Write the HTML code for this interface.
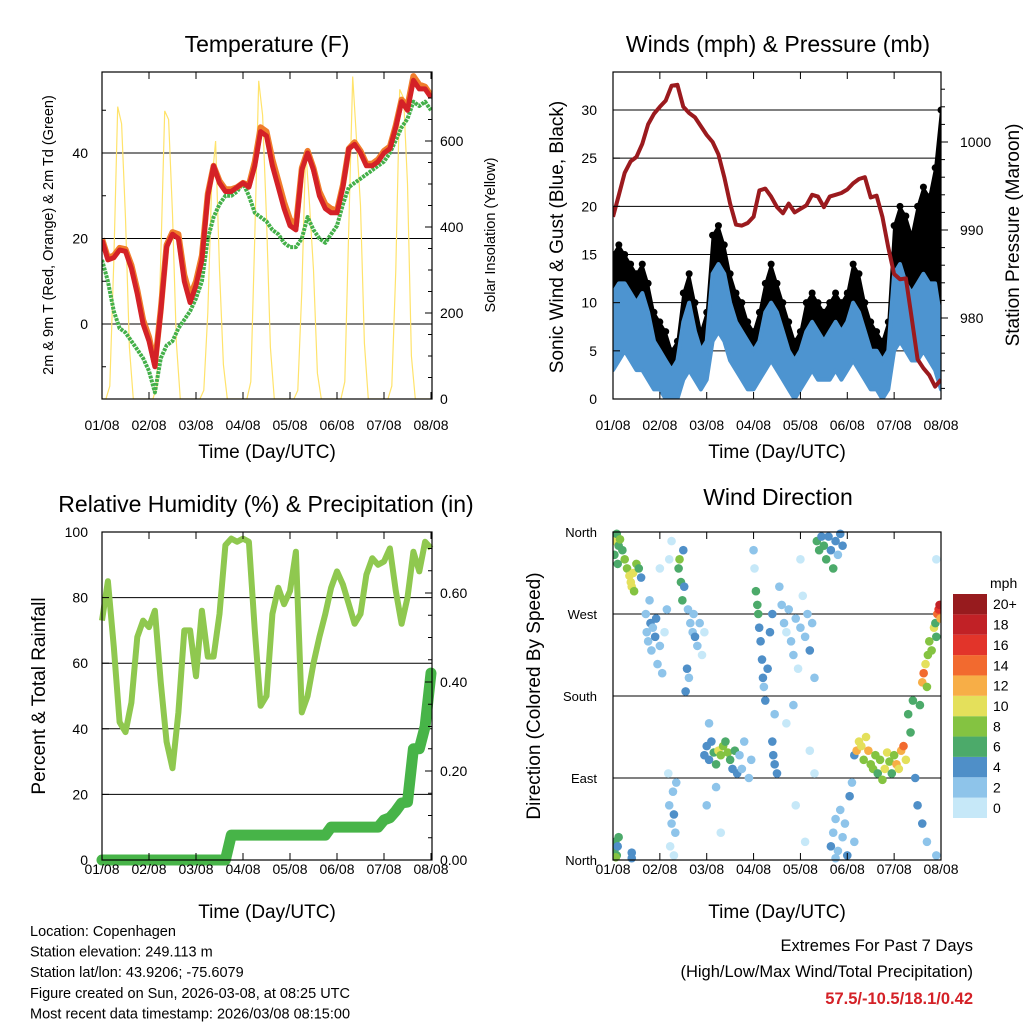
<!DOCTYPE html>
<html><head><meta charset="utf-8"><style>
html,body{margin:0;padding:0;background:#fff}
svg{display:block;font-family:"Liberation Sans",Arial,sans-serif}
</style></head><body>
<svg id="chart" width="1024" height="1024" viewBox="0 0 1024 1024" xmlns="http://www.w3.org/2000/svg"></svg>
<script>
// ---------- DATA (3-hourly, 57 samples from 01/08 to 08/08) ----------
const dayLabels = ["01/08","02/08","03/08","04/08","05/08","06/08","07/08","08/08"];
const temp2m = [19.6,15,15.5,17.3,17,13,7,0,-4,-10,3,18,21,20,10,5,9,15,30,37,33,31,31,32,33,32,37,45,44,37,32,27,23,22,36,40,36,30,27,26,26,32,41,42,40,37,37,38,40,41,46,52,50,57,55,55,53];
const temp9m = [20,15.5,16,17.8,17.5,13.8,8,1,-3,-9.5,3.5,18.5,21.5,21,11.5,6.5,10,16,30.5,37,33.5,31.5,31.5,32,33,32.5,38,46,45,38.5,33.5,28.5,24.5,23,36.5,40.5,36.5,31,28,27,26.5,32.5,41,42.5,40.5,37.5,37.5,38.5,40.5,41.5,46.5,52.5,51,58,56,55.5,53.5];
const dewpt = [15,10,3,-1,-2,-4,-6,-8,-11,-16,-8,-5,-4,-1,1,3,6,10,20,25,28,30,30,31,33,30,26,25,24,22,21,19,18,18,20,25,22,20,19,21,23,28,32,33,34,35,36,37,38,40,43,46,48,52,51,52,50];
// Solar insolation, 2-hourly (85 samples)
const solar = [0,0,30,320,680,640,420,120,0,0,0,0, 0,0,30,330,670,650,430,130,0,0,0,0, 0,0,20,200,500,600,300,80,0,0,0,0, 0,0,40,380,740,660,420,120,0,0,0,0, 0,0,20,250,580,450,300,60,0,0,0,0, 0,0,40,400,750,600,450,130,0,0,0,0, 0,0,30,300,720,700,500,100,0,0,0,0, 0];
const windLo = [3,4,5,4,3,3,2,1,1,0,0,0,2,3,2,1,2,6,7,6,4,3,2,1,1,2,3,4,3,2,1,0,1,2,3,2,2,2,3,2,3,4,3,2,1,1,0,1,5,6,5,4,4,5,4,3,1];
const windHi = [11,12,12,11,10,11,9,6,5,4,3,4,8,10,7,5,6,13,14,13,10,8,7,6,5,6,9,10,9,7,5,4,5,7,8,7,6,7,8,7,8,10,9,7,5,5,4,5,13,14,12,11,12,13,12,12,8];
const gust = [15,16,15,14,13,14,12,9,8,7,5,6,11,13,10,7,9,17,18,16,13,11,10,8,7,9,12,14,12,10,8,6,7,10,11,10,9,10,11,10,11,14,13,10,8,7,6,8,18,20,19,17,20,22,21,24,30];
const pressure = [991.5,994,996.5,997.8,998.3,999.8,1002,1003.2,1004,1004.7,1006.4,1006.5,1004,1003.3,1002.8,1001.8,1000.8,1000,998.6,996,993,990.6,990.5,990.8,991.5,994.5,994.7,993.8,992.6,991.9,993,992,992.4,992.8,994,993.8,992.6,993.8,994,994.2,994.6,995.3,995.8,996,993.7,993.9,991.5,988,985,984.4,984.5,980,975.3,974.3,973.5,972.2,973];
const rh = [73,85,65,42,39,48,68,73,71,76,54,36,28,45,70,70,56,76,62,62,75,96,98,97,98,97,70,47,50,75,83,78,82,94,45,50,60,68,75,83,88,84,78,72,75,87,92,90,91,95,82,72,80,94,88,97,95];
const precip = [0,0,0,0,0,0,0,0,0,0,0,0,0,0,0,0,0,0,0,0,0,0,0.056,0.056,0.056,0.056,0.056,0.056,0.056,0.056,0.056,0.056,0.056,0.056,0.056,0.056,0.056,0.056,0.056,0.074,0.074,0.074,0.074,0.074,0.074,0.074,0.074,0.074,0.09,0.095,0.11,0.128,0.13,0.25,0.25,0.30,0.42];
// wind direction obs: day, direction(deg), speed(mph)
const dirDay = [0.02,0.05,0.08,0.12,0.15,0.2,0.25,0.3,0.35,0.38,0.4,0.43,0.45,0.5,0.55,0.6,0.03,0.1, 0.7,0.72,0.75,0.8,0.82,0.85,0.9,0.92,0.95,1.0,1.05,1.1,1.15,0.78, 1.4,1.42,1.45,1.48,1.5,1.52, 1.6,1.65,1.7,1.72,1.75,1.8,1.85,1.9,1.95,1.62,1.55,1.58,1.2,1.25,1.0, 1.2,1.25,1.28,1.3,1.33,1.22,1.35,1.18,1.3, 0.03,0.05,0.08,0.1,0.12,0.06,0.4,0.4, 1.95,2.0,2.05,2.1,2.15,2.2,2.25,2.3,2.35,2.4,2.45,2.5,2.55,2.6,2.65,2.7,2.75,2.8,2.9,2.95,2.05,2.2,2.0,2.3, 3.0,3.02,3.05,3.08,3.1,3.12,3.15,3.18,3.2,3.22,3.25,3.3,3.35,3.4,3.45,3.42,3.45,3.4,3.5, 3.55,3.6,3.65,3.7,3.75,3.8,3.85,3.9,3.95,4.0,4.05,4.1,4.15,4.2,4.25,4.3,3.7,3.85,4.0,4.2,3.9,4.1,4.3, 4.35,4.4,4.45,4.5,4.55,4.6,4.65,4.7,4.75,4.8,4.85,4.9, 4.65,4.7,4.75,4.8,4.85,4.9,4.95,5.0,5.05,5.1,5.15,4.75, 5.15,5.2,5.25,5.3,5.35,5.4,5.45,5.5,5.55,5.6,5.65,5.7,5.75,5.8,5.85,5.9,5.95,6.0,6.05,6.1,6.15,6.2,6.25,6.3,6.35,6.4,6.45,6.5, 6.6,6.63,6.67,6.7,6.72,6.75,6.8,6.85,6.88,6.9,6.92,6.95,6.97,6.99,6.55,6.6,6.7,6.9,6.9];
const dirDeg = [355,350,358,345,352,340,330,320,312,305,300,315,295,325,320,310,335,325, 270,250,240,260,230,255,245,265,215,235,205,250,275,285, 320,330,305,285,340,300, 275,260,250,270,245,235,260,225,250,200,185,210,330,350,320, 60,40,75,50,30,15,85,95,5, 10,20,5,15,25,3,8,2, 115,125,110,130,118,105,120,115,125,130,118,110,100,120,95,115,100,130,90,110,150,80,60,30, 340,320,295,280,270,255,240,220,200,190,175,210,250,270,160,115,105,130,95, 300,280,260,250,275,240,225,265,210,255,290,245,270,230,260,200,150,170,330,120,60,20,95, 350,340,355,345,330,355,340,320,350,335,358,345, 15,30,45,10,55,25,40,5,70,85,20,2, 115,120,130,125,110,135,120,105,100,115,95,110,88,100,118,108,95,115,105,100,120,125,110,160,140,175,90,60, 195,205,215,190,225,240,230,255,260,245,270,275,280,265,170,40,20,5,330];
const dirSpd = [8,10,7,6,8,7,9,8,10,11,10,10,9,8,6,5,6,7, 3,2,3,4,2,3,4,5,2,3,2,1,2,2, 7,8,6,7,5,4, 3,2,3,2,4,2,2,1,1,2,4,4,1,1,1, 3,3,2,4,2,1,2,1,1, 7,6,6,5,7,9,4,4, 4,5,4,5,6,7,10,8,9,7,8,6,5,6,4,3,2,3,2,2,2,2,2,1, 2,1,6,7,6,5,4,4,4,3,4,4,4,4,3,4,4,4,4, 2,3,2,1,2,3,2,3,1,2,1,3,3,4,3,2,1,2,1,1,1,1,1, 6,6,5,7,6,4,5,6,4,3,4,4, 4,3,2,3,2,3,2,4,4,2,2,3, 5,12,10,11,8,10,12,9,8,8,7,9,8,10,11,8,7,9,12,11,13,14,10,7,6,6,4,4, 12,14,10,8,9,8,9,10,7,6,15,17,19,13,6,4,3,2,1];
const cbLabels = ["0","2","4","6","8","10","12","14","16","18","20+"];
const cbColors = ["#c6e8f8","#8ec4ea","#4f8fc8","#4caa6a","#84c341","#e4e05b","#f7ae47","#f26a2f","#e2342a","#c12126","#971b1e"];

// ---------- helpers ----------
const NS="http://www.w3.org/2000/svg";
const svg=document.getElementById('chart');
function el(tag,attrs,parent,text){const e=document.createElementNS(NS,tag);for(const k in attrs)e.setAttribute(k,attrs[k]);if(text!==undefined)e.textContent=text;(parent||svg).appendChild(e);return e;}
function txt(x,y,s,size,anchor,parent,extra){const t=el('text',Object.assign({x:x,y:y,'font-size':size,'text-anchor':anchor||'middle',fill:'#000'},extra||{}),parent,s);return t;}
function linear(d0,d1,r0,r1){return v=>r0+(v-d0)*(r1-r0)/(d1-d0);}
function pathFrom(xs,ys){return xs.map((x,i)=>(i?'L':'M')+x.toFixed(1)+','+ys[i].toFixed(1)).join('');}
const hours3=temp2m.map((_,i)=>i/8), hours2=solar.map((_,i)=>i/12);

function frame(g,L,T,R,B,xs,labOff){
  dayLabels.forEach((lab,i)=>{const x=xs(i);
    const tk=el('line',{x1:x,x2:x,y1:B,y2:B-7,stroke:'#000','stroke-width':1},g);
    
    
    el('line',{x1:x,x2:x,y1:T,y2:T+7,stroke:'#000','stroke-width':1},g);
    const t=txt(x,B+labOff,lab,14,'middle',g);
    
    
  });
}
function box(g,L,T,R,B){el('rect',{x:L,y:T,width:R-L,height:B-T,fill:'none',stroke:'#000','stroke-width':1.2},g);}
function grid(g,L,R,y){el('line',{x1:L,x2:R,y1:y,y2:y,stroke:'#000','stroke-width':1},g);}

// ================= PANEL 1: Temperature =================
(function(){
const g=el('g',{});  
const L=102,T=72,R=432,B=399;
const xs=linear(0,7,L,431), ys=linear(0,40,324,153), ysol=linear(0,600,399,141);
const cp=el('clipPath',{id:'c1'},g); el('rect',{x:L,y:T,width:R-L,height:B-T},cp);
[0,20,40].forEach(v=>grid(g,L,R,ys(v)));
const pg=el('g',{'clip-path':'url(#c1)'},g);
const sol=el('path',{d:pathFrom(hours2.map(xs),solar.map(ysol)),fill:'none',stroke:'#ffe36b','stroke-width':1.2},pg);
 
const dp=el('path',{d:pathFrom(hours3.map(xs),dewpt.map(ys)),fill:'none',stroke:'#44b04a','stroke-width':4,'stroke-dasharray':'3 1','stroke-linejoin':'round'},pg);
 
const t9=el('path',{d:pathFrom(hours3.map(xs),temp9m.map(ys)),fill:'none',stroke:'#f07d2b','stroke-width':6,'stroke-linejoin':'round'},pg);
 
const t2=el('path',{d:pathFrom(hours3.map(xs),temp2m.map(ys)),fill:'none',stroke:'#d42127','stroke-width':5,'stroke-linejoin':'round'},pg);
 
box(g,L,T,R,B); frame(g,L,T,R,B,xs,31);
[0,20,40].forEach(v=>{el('line',{x1:L,x2:L+7,y1:ys(v),y2:ys(v),stroke:'#000'},g);const t=txt(88,ys(v)+5,String(v),14,'end',g);});
[-10,10,30,50].forEach(v=>el('line',{x1:L,x2:L+4,y1:ys(v),y2:ys(v),stroke:'#000'},g));
[0,200,400,600].forEach(v=>{el('line',{x1:R,x2:R-7,y1:ysol(v),y2:ysol(v),stroke:'#000'},g);const t=txt(440,ysol(v)+5,String(v),14,'start',g);});
for(let v=50;v<750;v+=50){if(v%200)el('line',{x1:R,x2:R-4,y1:ysol(v),y2:ysol(v),stroke:'#000'},g);}
const ti=txt(267,52,'Temperature (F)',23,'middle',g);  
const xt=txt(267,458,'Time (Day/UTC)',19,'middle',g);  
const yl=txt(0,0,'2m & 9m T (Red, Orange) & 2m Td (Green)',14.5,'middle',g,{transform:'translate(53,235) rotate(-90)'});  
const yr=txt(0,0,'Solar Insolation (Yellow)',14.5,'middle',g,{transform:'translate(495,235) rotate(-90)'});  
})();

// ================= PANEL 2: Winds & Pressure =================
(function(){
const g=el('g',{});  
const L=613,T=72,R=941,B=399;
const xs=linear(0,7,L,941), ys=linear(0,30,399,110), yp=linear(980,1000,318,142);
const cp=el('clipPath',{id:'c2'},g); el('rect',{x:L,y:T,width:R-L,height:B-T},cp);
[5,10,15,20,25,30].forEach(v=>grid(g,L,R,ys(v)));
const pg=el('g',{'clip-path':'url(#c2)'},g);
const X=hours3.map(xs);
const gb=el('path',{d:pathFrom(X,windHi.map(ys))+pathFrom(X.slice().reverse(),gust.slice().reverse().map(ys)).replace('M','L')+'Z',fill:'#000',stroke:'#000','stroke-width':2,'stroke-linejoin':'round'},pg);
 
gust.forEach((v,i)=>{const c=el('circle',{cx:X[i],cy:ys(v),r:3.5,fill:'#000'},pg);
  
  });
const wb=el('path',{d:pathFrom(X,windLo.map(ys))+pathFrom(X.slice().reverse(),windHi.slice().reverse().map(ys)).replace('M','L')+'Z',fill:'#4d94d0',stroke:'#4d94d0','stroke-width':4,'stroke-linejoin':'round'},pg);
 
const pl=el('path',{d:pathFrom(X,pressure.map(yp)),fill:'none',stroke:'#9b1a1e','stroke-width':4,'stroke-linejoin':'round'},pg);
 
box(g,L,T,R,B); frame(g,L,T,R,B,xs,31);
[0,5,10,15,20,25,30].forEach(v=>{el('line',{x1:L,x2:L+7,y1:ys(v),y2:ys(v),stroke:'#000'},g);const t=txt(597,ys(v)+5,String(v),14,'end',g);});
[980,990,1000].forEach(v=>{el('line',{x1:R,x2:R+7,y1:yp(v),y2:yp(v),stroke:'#000'},g);const t=txt(960,yp(v)+5,String(v),14,'start',g);});
for(let v=972;v<=1006;v+=2){if(v%10)el('line',{x1:R,x2:R+4,y1:yp(v),y2:yp(v),stroke:'#000'},g);}
const ti=txt(778,52,'Winds (mph) & Pressure (mb)',23,'middle',g);  
const xt=txt(777,458,'Time (Day/UTC)',19,'middle',g);  
const yl=txt(0,0,'Sonic Wind & Gust (Blue, Black)',19,'middle',g,{transform:'translate(563,237) rotate(-90)'});  
const yr=txt(0,0,'Station Pressure (Maroon)',19,'middle',g,{transform:'translate(1019,235) rotate(-90)'});  
})();

// ================= PANEL 3: RH & Precip =================
(function(){
const g=el('g',{});  
const L=102,T=532,R=432,B=860;
const xs=linear(0,7,L,431), ys=linear(0,100,860,532), yp=linear(0,0.6,860,593);
[20,40,60,80].forEach(v=>grid(g,L,R,ys(v)));
const cp=el('clipPath',{id:'c3'},g); el('rect',{x:L-6,y:T,width:R-L+12,height:B-T+6},cp);
const pg=el('g',{'clip-path':'url(#c3)'},g);
const X=hours3.map(xs);
const pr=el('path',{d:pathFrom(X,precip.map(yp)),fill:'none',stroke:'#47b448','stroke-width':11,'stroke-linejoin':'round','stroke-linecap':'round'},pg);
 
const rl=el('path',{d:pathFrom(X,rh.map(ys)),fill:'none',stroke:'#8fc84f','stroke-width':6,'stroke-linejoin':'round'},pg);
 
box(g,L,T,R,B); frame(g,L,T,R,B,xs,14);
[0,20,40,60,80,100].forEach(v=>{el('line',{x1:L,x2:L+7,y1:ys(v),y2:ys(v),stroke:'#000'},g);const t=txt(88,ys(v)+5,String(v),14,'end',g);});
[0,0.2,0.4,0.6].forEach(v=>{el('line',{x1:R,x2:R-7,y1:yp(v),y2:yp(v),stroke:'#000'},g);const t=txt(440,yp(v)+5,v.toFixed(2),14,'start',g);});
for(let v=0.05;v<0.72;v+=0.05){if(Math.round(v*100)%20)el('line',{x1:R,x2:R-4,y1:yp(v),y2:yp(v),stroke:'#000'},g);}
const ti=txt(266,512,'Relative Humidity (%) & Precipitation (in)',23,'middle',g);  
const xt=txt(267,918,'Time (Day/UTC)',19,'middle',g);  
const yl=txt(0,0,'Percent & Total Rainfall',19,'middle',g,{transform:'translate(45,696) rotate(-90)'});  
})();

// ================= PANEL 4: Wind Direction =================
(function(){
const g=el('g',{});  
const L=613,T=532,R=941,B=860;
const xs=linear(0,7,L,941), ys=linear(0,360,860,532);
[90,180,270].forEach(v=>grid(g,L,R,ys(v)));
const cp=el('clipPath',{id:'c4'},g); el('rect',{x:L,y:T-4,width:R-L,height:B-T+8},cp);
const pg=el('g',{'clip-path':'url(#c4)'},g);
function col(s){return cbColors[Math.min(10,Math.max(0,Math.floor(s/2)))];}
dirDay.forEach((d,i)=>{const c=el('circle',{cx:xs(d),cy:ys(dirDeg[i]),r:4.3,fill:col(dirSpd[i])},pg);
  
  });
box(g,L,T,R,B); frame(g,L,T,R,B,xs,14);
["North","East","South","West","North"].forEach((lab,i)=>{const v=i*90;el('line',{x1:L,x2:L+7,y1:ys(v),y2:ys(v),stroke:'#000'},g);const t=txt(597,ys(v)+5,lab,13,'end',g);});
const ti=txt(778,505,'Wind Direction',23,'middle',g);  
const xt=txt(777,918,'Time (Day/UTC)',19,'middle',g);  
const yl=txt(0,0,'Direction (Colored By Speed)',19,'middle',g,{transform:'translate(540,696) rotate(-90)'});  
const cb=el('g',{},g);  
const h=224/11;
cbColors.forEach((c,i)=>{const y=818-(i+1)*h;
  const r=el('rect',{x:953,y:y,width:34,height:h,fill:c},cb);
  
  
  const t=txt(993,y+h/2+5,cbLabels[i],14,'start',cb);
  
  });
const m=txt(990,588,'mph',14,'start',cb);  
})();

// ================= footer text =================
(function(){
const g=el('g',{});  
["Location: Copenhagen","Station elevation: 249.113 m","Station lat/lon: 43.9206; -75.6079","Figure created on Sun, 2026-03-08, at 08:25 UTC","Most recent data timestamp: 2026/03/08 08:15:00"].forEach((s,i)=>{
  const t=txt(30,936+i*20.6,s,14.5,'start',g);
  
  });
const g2=el('g',{});  
const a=txt(973,951,'Extremes For Past 7 Days',16.5,'end',g2);  
const b=txt(973,977,'(High/Low/Max Wind/Total Precipitation)',16.5,'end',g2);  
const c=txt(973,1004,'57.5/-10.5/18.1/0.42',16.5,'end',g2,{fill:'#d42127','font-weight':'bold'});  
})();
</script>
</body></html>
